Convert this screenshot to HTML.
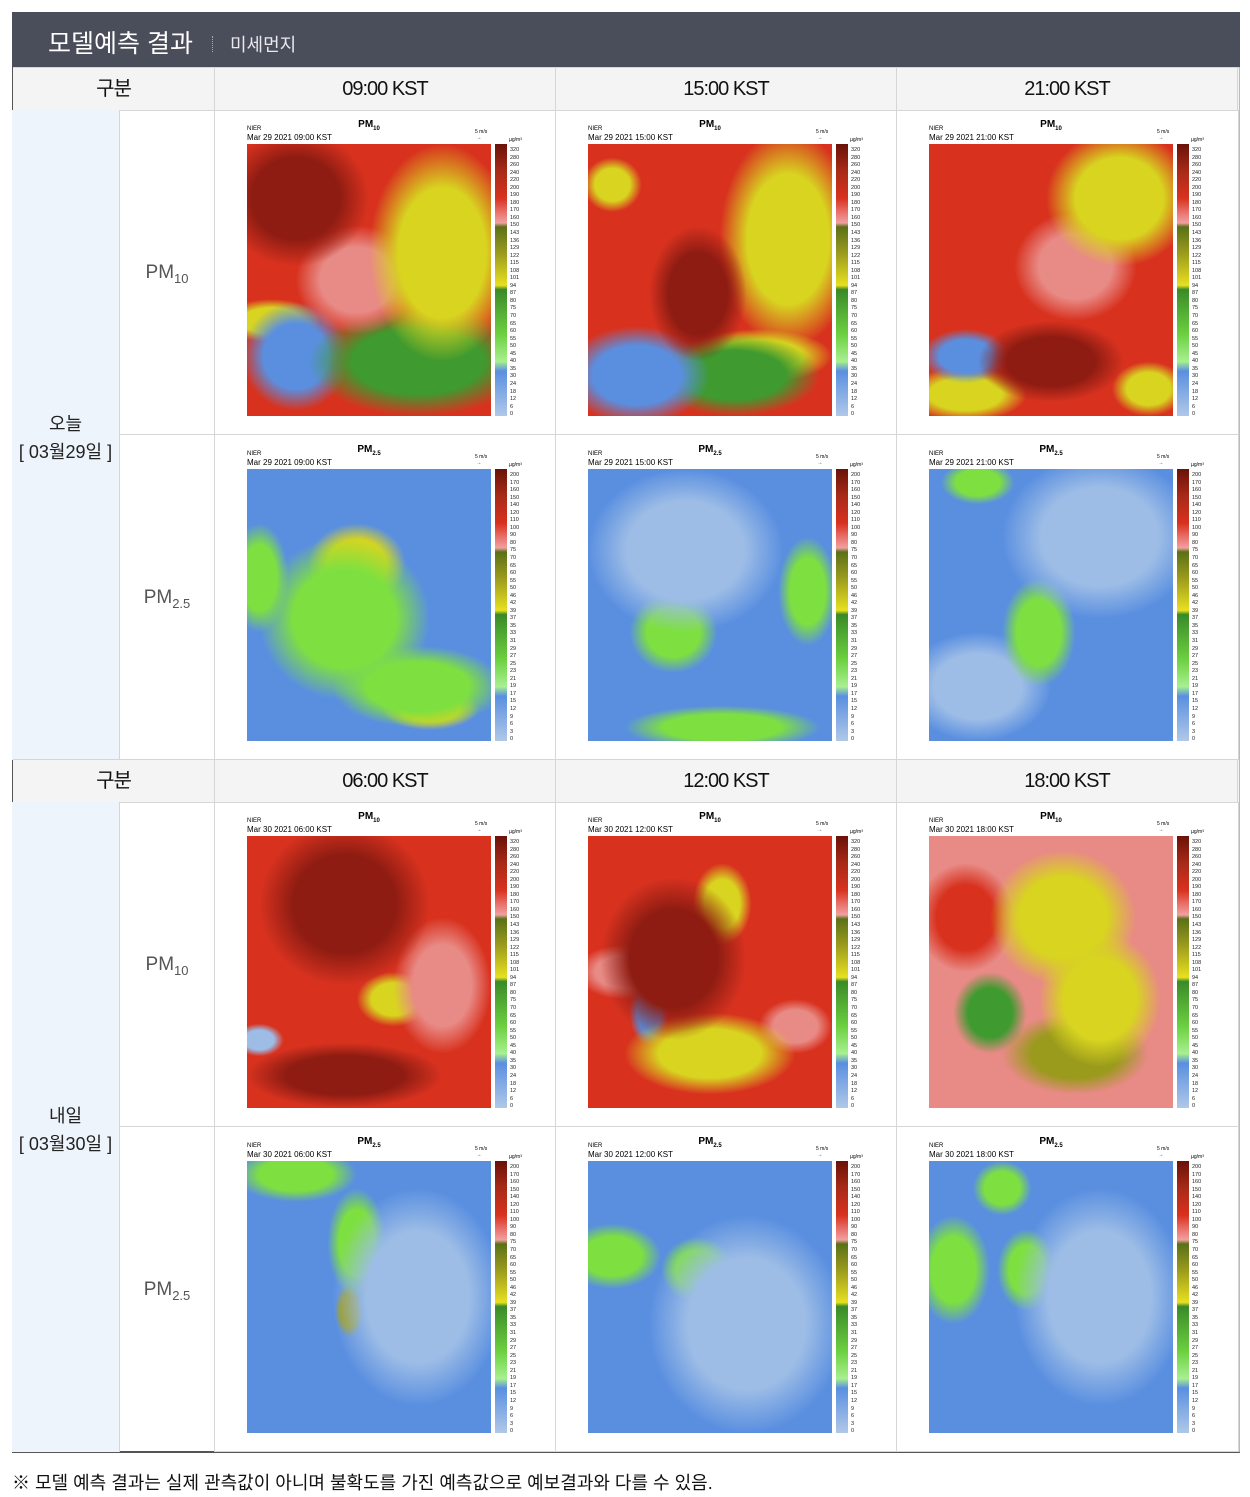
<!DOCTYPE html>
<html><head><meta charset="utf-8">
<style>
*{margin:0;padding:0;box-sizing:border-box}
body{width:1250px;height:1497px;background:#fff;font-family:"Liberation Sans","Noto Sans CJK KR",sans-serif;position:relative;overflow:hidden}
.hdr{position:absolute;left:12px;top:12px;width:1228px;height:56px;background:#4a4d5a;color:#fff}
.hdr .t{position:absolute;left:36px;top:12px;font-size:25px}
.hdr .sep{position:absolute;left:200px;top:24px;height:16px;border-left:1px dotted #aaa}
.hdr .s{position:absolute;left:218px;top:19px;font-size:18px;color:#e8e8ee}
.abs{position:absolute}
.hrow{position:absolute;background:#f4f4f4;border-top:1px solid #d6d6d6;border-bottom:1px solid #d6d6d6;font-size:20px;color:#111;letter-spacing:-1px}
.hrow div{position:absolute;top:0;height:42px;line-height:42px;text-align:center;border-right:1px solid #d6d6d6}
.day{position:absolute;left:12px;width:108px;background:#eef4fb;border-right:1px solid #d6d6d6;text-align:center;font-size:18px;color:#222;line-height:28px}
.pm{position:absolute;left:120px;width:95px;border-right:1px solid #d6d6d6;text-align:center;font-size:19px;color:#555}
.cell{position:absolute;border-right:1px solid #d6d6d6;border-bottom:1px solid #d6d6d6}
.map{position:absolute;left:32px;top:34px;width:244px;height:272px}
.cb{position:absolute;left:280px;top:34px;width:12px;height:272px}
.lb{position:absolute;left:295px;top:37px;font-size:5.5px;line-height:7.55px;color:#222}
.ti{position:absolute;left:0;width:308px;top:9px;text-align:center;font-size:10px;font-weight:bold}
.n1{position:absolute;left:32px;top:16px;font-size:6px}
.n2{position:absolute;left:32px;top:23px;font-size:8px}
.ms{position:absolute;left:260px;top:19px;font-size:5px}
.ug{position:absolute;left:294px;top:27px;font-size:5px}
</style></head><body>
<div class="hdr"><div class="t">모델예측 결과</div><div class="sep"></div><div class="s">미세먼지</div></div>
<div class="abs" style="left:12px;top:67px;width:1228px;height:1386px;border-left:2px solid #555;border-right:1px solid #bbb;border-bottom:2px solid #555"></div>
<div id="root"></div>
<div class="abs" style="left:12px;top:1469px;font-size:18px;color:#111">※ 모델 예측 결과는 실제 관측값이 아니며 불확도를 가진 예측값으로 예보결과와 다를 수 있음.</div>
<script>
var C={dr:'#8e1c12',r:'#d8321f',p:'#e88a85',o:'#9a9a1c',y:'#d8d420',g:'#3f9a2f',lg:'#7ee040',b:'#5a8fe0',lb:'#9dbde6'};
function bg(base,bl){var s=bl.map(function(a){return 'radial-gradient(ellipse '+a[3]+'% '+a[4]+'% at '+a[1]+'% '+a[2]+'%, '+C[a[0]]+' 60%, transparent 100%)'});s.push(C[base]);return s.join(',');}
var maps=[
['r',[['dr',20,20,30,25],['y',80,40,30,40],['p',45,50,25,20],['g',70,80,45,20],['b',20,78,22,20],['y',10,65,20,8],['r',50,60,15,10]]],
['r',[['dr',45,55,20,25],['y',82,35,28,40],['b',20,85,30,18],['g',60,85,35,15],['y',70,78,30,10],['y',10,15,12,10]]],
['r',[['y',78,20,30,25],['p',60,45,25,20],['dr',50,80,30,15],['b',15,78,18,10],['y',15,92,25,10],['y',90,90,15,10]]],
['b',[['lg',40,55,35,30],['y',45,35,20,15],['lg',70,80,35,15],['lg',5,40,12,20],['y',75,88,20,8]]],
['b',[['lb',40,30,40,30],['lg',35,60,18,15],['lg',90,45,12,20],['lg',55,95,40,8]]],
['b',[['lb',70,25,40,30],['lg',45,60,15,20],['lg',20,5,15,8],['lb',20,80,30,20]]],
['r',[['dr',40,25,35,30],['dr',40,88,40,12],['p',80,55,20,25],['y',60,60,15,10],['lb',5,75,10,6]]],
['r',[['dr',35,45,30,30],['y',50,80,35,15],['y',55,25,12,15],['b',25,65,8,12],['p',15,50,20,10],['p',85,70,15,10]]],
['p',[['y',55,30,30,25],['g',25,65,15,15],['y',70,60,25,25],['r',15,30,20,20],['o',60,80,30,15]]],
['b',[['lg',20,5,25,10],['lb',70,50,35,40],['lg',45,30,12,20],['o',42,55,6,10]]],
['b',[['lb',65,60,40,40],['lg',10,35,20,12],['lg',45,40,15,12]]],
['b',[['lb',70,50,35,40],['lg',10,40,15,20],['lg',40,40,12,15],['lg',30,10,12,10]]]];
var cb10='linear-gradient(#6a1208 0%,#a82a18 10%,#d8321f 20%,#e9706a 25%,#f0a0a0 29%,#5a7018 30.5%,#9a9a1c 40%,#e8e020 52%,#3a8a28 53.5%,#6cd040 70%,#a8f090 80%,#5a8fe0 83.5%,#b0c8e8 100%)';
var L10='320 280 260 240 220 200 190 180 170 160 150 143 136 129 122 115 108 101 94 87 80 75 70 65 60 55 50 45 40 35 30 24 18 12 6 0'.split(' ');
var L25='200 170 160 150 140 120 110 100 90 80 75 70 65 60 55 50 46 42 39 37 35 33 31 29 27 25 23 21 19 17 15 12 9 6 3 0'.split(' ');
var times=[['09:00','15:00','21:00'],['06:00','12:00','18:00']];
var dates=['Mar 29 2021','Mar 30 2021'];
var h='';var cols=[215,556,897];var tops=[67,759];
for(var s=0;s<2;s++){var T=tops[s];
h+='<div class="hrow" style="left:13px;top:'+T+'px;width:1226px;height:44px"><div style="left:0;width:202px">구분</div>';
for(var c=0;c<3;c++)h+='<div style="left:'+(cols[c]-13)+'px;width:341px">'+times[s][c]+' KST</div>';
h+='</div>';
h+='<div class="day" style="top:'+(T+43)+'px;height:650px;padding-top:'+(300)+'px">'+(s?'내일':'오늘')+'<br>[ 03월'+(s?'30':'29')+'일 ]</div>';
for(var r=0;r<2;r++){var y=T+43+r*325;
h+='<div class="pm" style="top:'+y+'px;height:325px;line-height:325px;'+(r==0?'border-bottom:1px solid #d6d6d6':'')+'">'+(r?'PM<sub style="font-size:13px">2.5</sub>':'PM<sub style="font-size:13px">10</sub>')+'</div>';
for(var c=0;c<3;c++){var m=maps[s*6+r*3+c];
h+='<div class="cell" style="left:'+cols[c]+'px;top:'+y+'px;width:'+(c==2?342:341)+'px;height:325px">';
h+='<div class="ti">PM<sub style="font-size:6px">'+(r?'2.5':'10')+'</sub></div><div class="n1">NIER</div><div class="n2">'+dates[s]+' '+times[s][c]+' KST</div><div class="ms">5 m/s<br>&nbsp;→</div><div class="ug">µg/m³</div>';
h+='<div class="map" style="background:'+bg(m[0],m[1])+'"></div><div class="cb" style="background:'+cb10+'"></div><div class="lb">'+(r?L25:L10).join('<br>')+'</div></div>';
}}}
document.getElementById('root').innerHTML=h;
</script>
</body></html>
